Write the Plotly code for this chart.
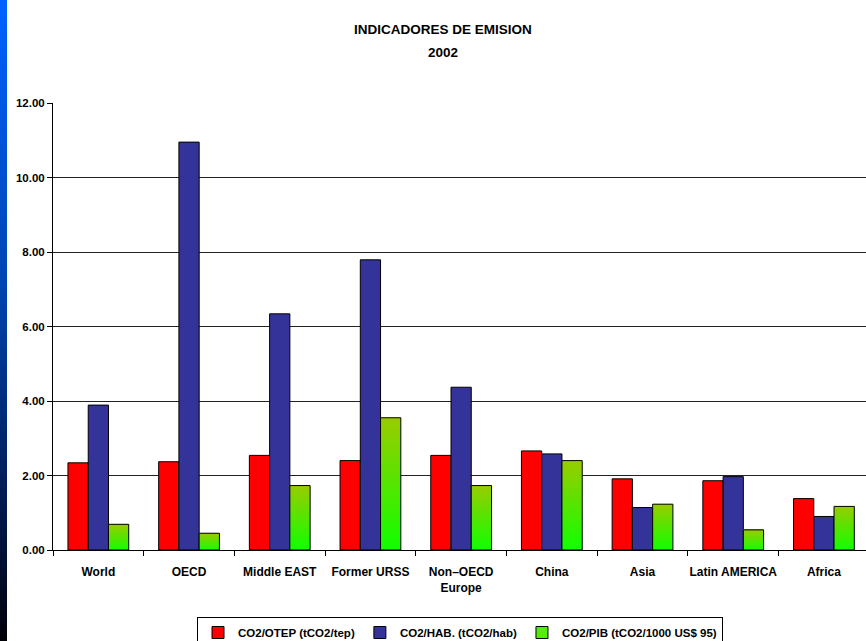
import base64
import plotly.graph_objects as go

categories = ["World", "OECD", "Middle EAST", "Former URSS", "Non–OECD<br>Europe",
              "China", "Asia", "Latin AMERICA", "Africa"]
otep = [2.34, 2.37, 2.54, 2.40, 2.54, 2.66, 1.91, 1.86, 1.38]
hab = [3.89, 10.95, 6.34, 7.79, 4.37, 2.58, 1.14, 1.97, 0.90]
pib = [0.69, 0.45, 1.73, 3.55, 1.73, 2.40, 1.23, 0.54, 1.17]
series_names = ["CO2/OTEP (tCO2/tep)", "CO2/HAB. (tCO2/hab)", "CO2/PIB (tCO2/1000 US$ 95)"]
y_ticks = [0, 2, 4, 6, 8, 10, 12]
title_lines = ["INDICADORES DE EMISION", "2002"]

FONT = "Liberation Sans, Arial, sans-serif"
fig = go.Figure()

line = dict(color="#000000", width=1)
fig.add_trace(go.Bar(x=categories, y=otep, name="<b>%s</b>" % series_names[0], offsetgroup="r",
                     marker=dict(color="#ff0000", line=line)))
fig.add_trace(go.Bar(x=categories, y=hab, name="<b>%s</b>" % series_names[1], offsetgroup="b",
                     marker=dict(color="#333399", line=line)))

# green gradient: stacked overlapping slices of each bar (bottom bright green -> top olive)
N = 24
c0 = (0x10, 0xff, 0x00)
c1 = (0x99, 0xcc, 0x00)
for k in range(N):
    t = (k + 0.5) / N
    col = "rgb(%d,%d,%d)" % tuple(round(a + (b - a) * t) for a, b in zip(c0, c1))
    f = 1.0 if k == N - 1 else 1.8
    fig.add_trace(go.Bar(x=categories, y=[v * f / N for v in pib],
                         base=[v * k / N for v in pib], offsetgroup="g",
                         showlegend=False, hoverinfo="skip",
                         marker=dict(color=col, line=dict(width=0))))
fig.add_trace(go.Bar(x=categories, y=pib, offsetgroup="g", showlegend=False,
                     marker=dict(color="rgba(0,0,0,0)", line=line)))
fig.add_trace(go.Bar(x=categories, y=[None] * len(categories),
                     name="<b>%s</b>" % series_names[2],
                     offsetgroup="g", marker=dict(color="#55ee00", line=line)))

svg = ('<svg xmlns="http://www.w3.org/2000/svg" width="10" height="100" preserveAspectRatio="none">'
       '<defs><linearGradient id="g" x1="0" y1="0" x2="0" y2="1">'
       '<stop offset="0" stop-color="#0062ff"/><stop offset="0.45" stop-color="#0044b0"/>'
       '<stop offset="0.8" stop-color="#00184a"/><stop offset="1" stop-color="#000008"/>'
       '</linearGradient></defs><rect width="10" height="100" fill="url(#g)"/></svg>')
src = "data:image/svg+xml;base64," + base64.b64encode(svg.encode()).decode()

W, H = 866, 641
L, R, T, B = 53, 0, 103, 91
pw, ph = W - L - R, H - T - B
fig.add_layout_image(dict(source=src, xref="paper", yref="paper",
                          x=-L / pw, y=1 + T / ph, sizex=7 / pw, sizey=H / ph,
                          xanchor="left", yanchor="top", sizing="stretch", layer="below"))

for txt, ypix in zip(title_lines, [30, 52]):
    fig.add_annotation(text="<b>%s</b>" % txt, xref="paper", yref="paper",
                       x=(443 - L) / pw, y=1 + (T - ypix) / ph, xanchor="center",
                       yanchor="middle", showarrow=False,
                       font=dict(family=FONT, size=13.5, color="#000000"))

fig.update_layout(
    width=W, height=H,
    margin=dict(l=L, r=R, t=T, b=B, pad=0, autoexpand=False),
    paper_bgcolor="#ffffff", plot_bgcolor="#ffffff",
    barmode="group", bargap=0.33, bargroupgap=0,
    font=dict(family=FONT, size=11.5, color="#000000"),
    legend=dict(orientation="h", x=(460 - L) / pw, xanchor="center", y=-(617 - 550) / ph,
                yanchor="top", bordercolor="#000000", borderwidth=1,
                font=dict(family=FONT, size=11.5, color="#000000"),
                itemwidth=30, traceorder="normal"),
    showlegend=True,
)
fig.update_xaxes(range=[-0.5, 8.464], showline=True, linecolor="#000000", linewidth=1,
                 ticks="outside", tickson="boundaries", ticklen=5, tickcolor="#000000",
                 showgrid=False, tickangle=0, automargin=False,
                 tickfont=dict(family=FONT, size=12, color="#000000"),
                 tickvals=categories, ticktext=["<b>%s</b>" % c for c in categories],
                 ticklabelstandoff=11)
fig.update_yaxes(range=[0, 12], tickvals=y_ticks, ticktext=["<b>%.2f</b>" % v for v in y_ticks],
                 showline=True, automargin=False,
                 linecolor="#000000", linewidth=1, ticks="outside", ticklen=5,
                 tickcolor="#000000", showgrid=True, gridcolor="#222222", gridwidth=1,
                 zeroline=False, tickfont=dict(family=FONT, size=11.5, color="#000000"))

fig.write_html("out.html")
